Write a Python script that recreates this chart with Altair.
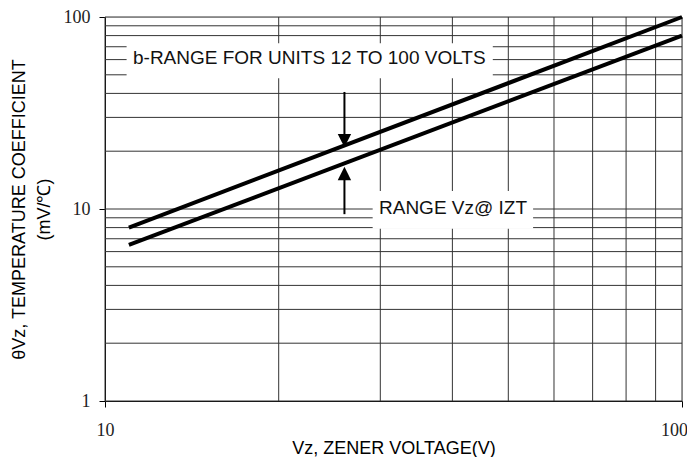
import altair as alt
import pandas as pd

# ---- data ----
line_x = [11, 100]
upper_y = [8, 100]
lower_y = [6.5, 80]

grid_y = [1, 2, 3, 4, 5, 6, 7, 8, 9, 10, 20, 30, 40, 50, 60, 70, 80, 90, 100]
grid_x = [10, 20, 30, 40, 50, 60, 70, 80, 90, 100]
x_ticks = [10, 100]
y_ticks = [1, 10, 100]

label1 = "b-RANGE FOR UNITS 12 TO 100 VOLTS"
label2 = "RANGE Vz@ IZT"
# annotation anchors in data coordinates
label1_box = dict(x=10.9, x2=47.0, y=73.0, y2=48.0)
label1_pos = dict(x=22.6, y=61.5)
label2_box = dict(x=29.1, x2=55.2, y=12.4, y2=7.9)
label2_pos = dict(x=40.1, y=10.1)
arrow_x = 26.0
arrow_down = dict(y=40.7, tip=22.7)
arrow_up = dict(y=9.4, tip=15.3)

xs = alt.Scale(type="log", domain=[10, 100], nice=False)
ys = alt.Scale(type="log", domain=[1, 100], nice=False)

SANS = "Liberation Sans"
SERIF = "Liberation Serif"
GRID = "#333333"

xaxis = alt.Axis(
    values=x_ticks, format="d", grid=False, tickSize=6, tickColor="black",
    domainColor="black", labelFont=SERIF, labelFontSize=18, labelColor="#222",
    labelPadding=14, labelFlush=False,
    labelOffset={"condition": {"test": "datum.value >= 100", "value": -8}, "value": 0},
    title="Vz, ZENER VOLTAGE(V)", titleFont=SANS,
    titleFontSize=18, titleFontWeight="normal", titleColor="black",
    titleBaseline="alphabetic", titleY=52,
)
yaxis = alt.Axis(
    values=y_ticks, format="d", grid=False, tickSize=6, tickColor="black",
    domainColor="black", labelFont=SERIF, labelFontSize=18, labelColor="#222",
    labelPadding=9, labelFlush=False, title=["θVz, TEMPERATURE COEFFICIENT", "(mV/℃)"],
    titleFont=SANS, titleFontSize=18, titleFontWeight="normal", titleColor="black",
    titleLineHeight=25, titlePadding=10,
)


def X(f):
    return alt.X(f, scale=xs, axis=xaxis)


def Y(f):
    return alt.Y(f, scale=ys, axis=yaxis)


lines_df = pd.DataFrame({
    "x": line_x + line_x,
    "y": upper_y + lower_y,
    "s": ["upper"] * 2 + ["lower"] * 2,
})

gh = alt.Chart(pd.DataFrame({"gy": grid_y})).mark_rule(color=GRID, strokeWidth=1).encode(
    y=Y("gy:Q")
)
gv = alt.Chart(pd.DataFrame({"gx": grid_x})).mark_rule(color=GRID, strokeWidth=1).encode(
    x=X("gx:Q")
)

boxes = alt.Chart(pd.DataFrame([label1_box, label2_box])).mark_rect(color="white").encode(
    x=X("x:Q"), x2="x2:Q", y=Y("y:Q"), y2="y2:Q",
)

lines = alt.Chart(lines_df).mark_line(color="black", strokeWidth=4, strokeCap="butt").encode(
    x=X("x:Q"), y=Y("y:Q"), detail="s:N",
)

arrows_df = pd.DataFrame({
    "x": [arrow_x, arrow_x],
    "y": [arrow_down["y"], arrow_up["y"]],
    "tip": [arrow_down["tip"], arrow_up["tip"]],
    "dir": ["down", "up"],
})
shafts = alt.Chart(arrows_df).mark_rule(color="black", strokeWidth=2).encode(
    x=X("x:Q"), y=Y("y:Q"), y2="tip:Q",
)
head_down = alt.Chart(arrows_df[arrows_df.dir == "down"]).mark_point(
    shape="M-1,-1L1,-1L0,1Z", size=180, filled=True, color="black", opacity=1
).encode(x=X("x:Q"), y=Y("tip:Q"))
head_up = alt.Chart(arrows_df[arrows_df.dir == "up"]).mark_point(
    shape="M-1,1L1,1L0,-1Z", size=180, filled=True, color="black", opacity=1
).encode(x=X("x:Q"), y=Y("tip:Q"))

texts_df = pd.DataFrame([
    {"x": label1_pos["x"], "y": label1_pos["y"], "t": label1},
    {"x": label2_pos["x"], "y": label2_pos["y"], "t": label2},
])
texts = alt.Chart(texts_df).mark_text(
    font=SANS, fontSize=19, color="#111", align="center", baseline="middle"
).encode(x=X("x:Q"), y=Y("y:Q"), text="t:N")

chart = alt.layer(
    gh, gv, boxes, lines, shafts, head_down, head_up, texts
).properties(
    width=577, height=384,
    autosize=alt.AutoSizeParams(type="none"),
    padding={"left": 97, "top": 9, "right": 5, "bottom": 56},
).configure_view(stroke=None).configure(background="white")

chart.save("out.html", embed_options={"renderer": "svg", "actions": False})
